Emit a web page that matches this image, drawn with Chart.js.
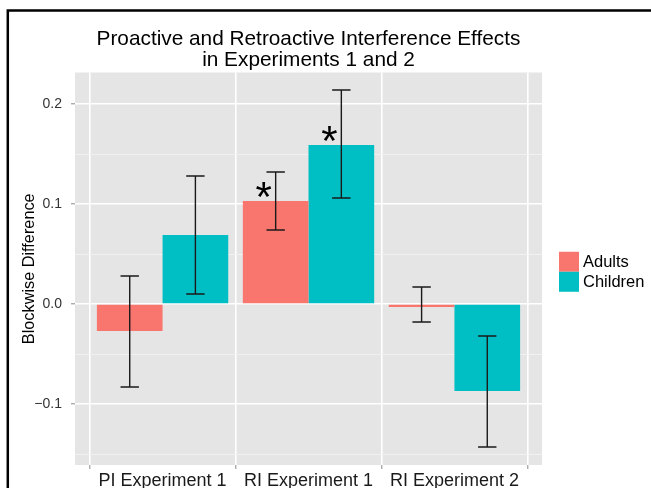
<!DOCTYPE html>
<html><head><meta charset="utf-8">
<script src="https://cdn.jsdelivr.net/npm/chart.js@4/dist/chart.umd.min.js"></script>
<style>html,body{margin:0;padding:0;background:#fff;overflow:hidden}canvas{display:block}</style>
</head><body>
<canvas id="c" width="651" height="488"></canvas>
<script>
// ---- data ----
const categories = ['PI Experiment 1', 'RI Experiment 1', 'RI Experiment 2'];
const seriesNames = ['Adults', 'Children'];
const adultsMean = [-0.027, 0.103, -0.003];
const childrenMean = [0.069, 0.159, -0.087];
const adultsLow = [-0.083, 0.074, -0.018];
const adultsHigh = [0.028, 0.132, 0.017];
const childrenLow = [0.010, 0.106, -0.143];
const childrenHigh = [0.128, 0.214, -0.032];
const adultsSig = [false, true, false];
const childrenSig = [false, true, false];
const yMajorTicks = [-0.1, 0, 0.1, 0.2];
const yMajorLabels = ['\u22120.1', '0.0', '0.1', '0.2'];
const yMinorTicks = [-0.15, -0.05, 0.05, 0.15];
const titleLines = ['Proactive and Retroactive Interference Effects', 'in Experiments 1 and 2'];
const yTitle = 'Blockwise Difference';

// ---- style ----
const seriesColors = ['#F8766D', '#00BFC4'];
const FONT = "'Liberation Sans', Arial, Helvetica, sans-serif";
Chart.defaults.font.family = FONT;

const means = [adultsMean, childrenMean];
const lows = [adultsLow, childrenLow];
const highs = [adultsHigh, childrenHigh];
const sigs = [adultsSig, childrenSig];

const datasets = seriesNames.map((name, s) => ({
  label: name,
  data: categories.map((c, i) => ({ x: i + 1, y: means[s][i] })),
  backgroundColor: seriesColors[s],
  borderWidth: 0,
  categoryPercentage: 0.9,
  barPercentage: 1.0
}));

const panelBg = {
  id: 'panelBg',
  beforeDraw(chart) {
    const { ctx, chartArea: a } = chart;
    ctx.save();
    ctx.fillStyle = '#E5E5E5';
    ctx.fillRect(a.left, a.top, a.right - a.left, a.bottom - a.top);
    ctx.restore();
  }
};

const errorBars = {
  id: 'errorBars',
  afterDatasetsDraw(chart) {
    const { ctx } = chart;
    const y = chart.scales.y;
    ctx.save();
    ctx.strokeStyle = '#1a1a1a';
    ctx.lineWidth = 1.4;
    seriesNames.forEach((n, s) => {
      const meta = chart.getDatasetMeta(s);
      meta.data.forEach((el, i) => {
        const x = el.x;
        const hw = el.width * 0.14;
        const yl = y.getPixelForValue(lows[s][i]);
        const yh = y.getPixelForValue(highs[s][i]);
        ctx.beginPath();
        ctx.moveTo(x, yl); ctx.lineTo(x, yh);
        ctx.moveTo(x - hw, yl); ctx.lineTo(x + hw, yl);
        ctx.moveTo(x - hw, yh); ctx.lineTo(x + hw, yh);
        ctx.stroke();
      });
    });
    // asterisks
    ctx.fillStyle = '#000';
    ctx.font = '42px ' + FONT;
    ctx.textAlign = 'center';
    ctx.textBaseline = 'alphabetic';
    seriesNames.forEach((n, s) => {
      const meta = chart.getDatasetMeta(s);
      meta.data.forEach((el, i) => {
        if (!sigs[s][i]) return;
        const cx = el.x - 12;
        const cy = y.getPixelForValue(means[s][i]) - 14;
        ctx.fillText('*', cx, cy + 24);
      });
    });
    ctx.restore();
  }
};

const legendAndFrame = {
  id: 'legendAndFrame',
  afterDraw(chart) {
    const { ctx, chartArea: a } = chart;
    ctx.save();
    const lx = a.right + 17;
    const key = 20;
    const ly = (a.top + a.bottom) / 2 + 3 - key * seriesNames.length / 2;
    ctx.font = '16.5px ' + FONT;
    ctx.textBaseline = 'middle';
    ctx.textAlign = 'left';
    seriesNames.forEach((n, s) => {
      ctx.fillStyle = seriesColors[s];
      ctx.fillRect(lx, ly + s * key, key, key);
      ctx.fillStyle = '#000';
      ctx.fillText(n, lx + key + 4, ly + s * key + key / 2 + 0.5);
    });
    // frame
    ctx.strokeStyle = '#000';
    ctx.lineWidth = 2.5;
    ctx.beginPath();
    ctx.moveTo(7.8, 488); ctx.lineTo(7.8, 10.5); ctx.lineTo(651, 10.5);
    ctx.stroke();
    ctx.restore();
  }
};

new Chart(document.getElementById('c'), {
  type: 'bar',
  data: { datasets },
  plugins: [panelBg, errorBars, legendAndFrame],
  options: {
    responsive: false,
    devicePixelRatio: 1,
    animation: false,
    layout: { padding: { left: 0, right: 109, top: 0, bottom: 0 } },
    plugins: {
      legend: { display: false },
      tooltip: { enabled: false },
      title: {
        display: true,
        text: titleLines,
        fullSize: false,
        color: '#000',
        font: { size: 20.8, weight: 'normal', lineHeight: 1.01 },
        padding: { top: 29, bottom: 1.5 }
      }
    },
    scales: {
      x: {
        type: 'linear',
        min: 0.4,
        max: 3.6,
        offset: false,
        afterBuildTicks(scale) { scale.ticks = categories.map((c, i) => ({ value: i + 1 })); },
        afterFit(scale) { scale.height = 23; },
        ticks: {
          autoSkip: false,
          maxRotation: 0,
          padding: 1,
          color: '#1a1a1a',
          font: { size: 18 },
          callback: (v) => categories[Math.round(v) - 1]
        },
        grid: { color: '#FFFFFF', lineWidth: 1.6, tickLength: 4, tickColor: '#8a8a8a', tickWidth: 1 },
        border: { display: false }
      },
      y: {
        min: -0.161,
        max: 0.2315,
        afterBuildTicks(scale) {
          scale.ticks = yMinorTicks.concat(yMajorTicks).sort((p, q) => p - q).map(v => ({ value: v }));
        },
        afterFit(scale) { scale.width = 75; },
        ticks: {
          padding: 9,
          color: '#333333',
          font: { size: 14 },
          callback: (v) => { const k = yMajorTicks.indexOf(v); return k >= 0 ? yMajorLabels[k] : ''; }
        },
        grid: {
          color: (c) => yMajorTicks.includes(c.tick && c.tick.value) ? '#FFFFFF' : '#F2F2F2',
          lineWidth: (c) => yMajorTicks.includes(c.tick && c.tick.value) ? 1.6 : 0.9,
          tickLength: 4,
          tickColor: (c) => yMajorTicks.includes(c.tick && c.tick.value) ? '#8a8a8a' : 'rgba(0,0,0,0)',
          tickWidth: 1
        },
        border: { display: false },
        title: {
          display: true,
          text: yTitle,
          color: '#000',
          font: { size: 16.3 },
          padding: { top: 20, bottom: 0 }
        }
      }
    }
  }
});
</script>
</body></html>
